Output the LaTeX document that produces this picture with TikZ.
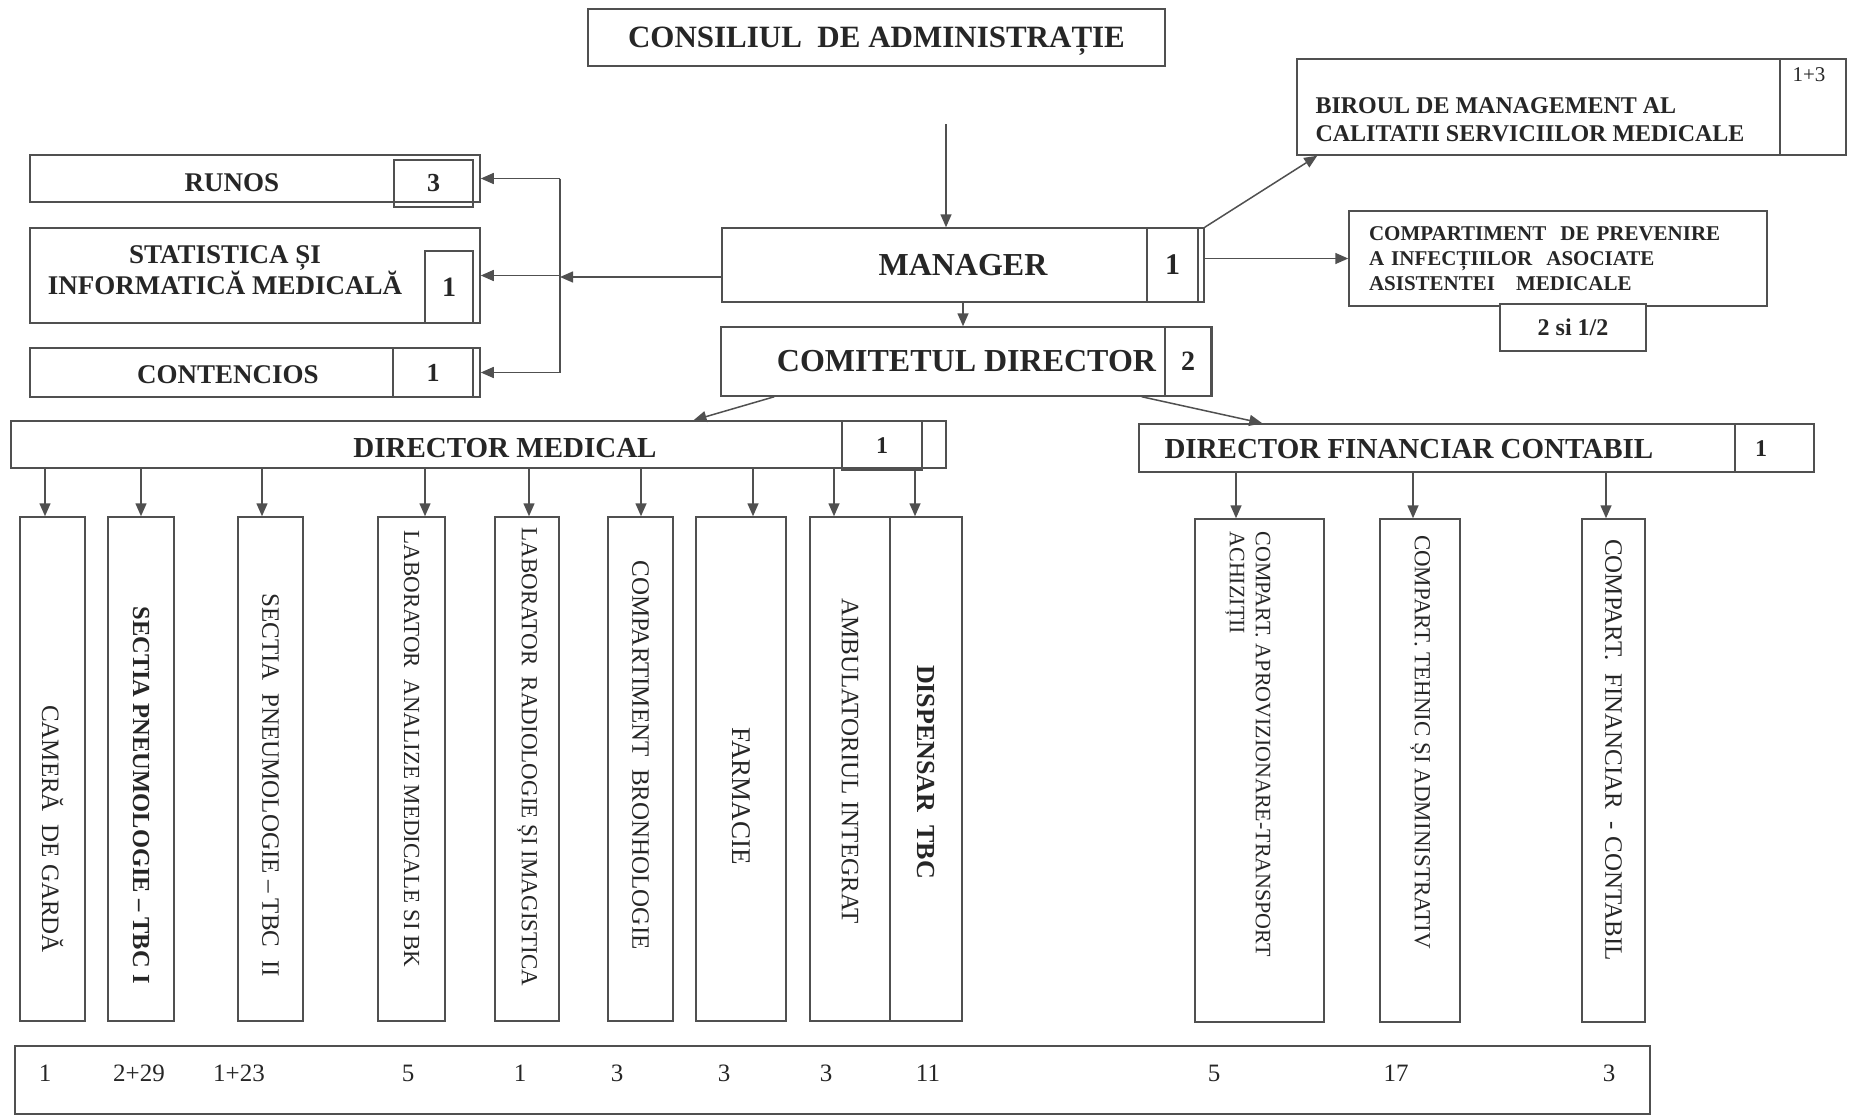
\documentclass[tikz,border=0pt]{standalone}
\usepackage{fontspec}
\setmainfont{Liberation Serif}
\usetikzlibrary{arrows.meta}

\definecolor{ink}{HTML}{262626}
\definecolor{rulec}{HTML}{505050}

\tikzset{
  box/.style={draw=rulec, line width=1.5pt, inner sep=0pt},
  arr/.style={draw=rulec, line width=1.5pt, -{Triangle[length=13pt,width=11pt]}},
  hbold/.style={text=ink, font=\bfseries\fontsize{#1}{#1}\selectfont},
  hplain/.style={text=ink, font=\fontsize{#1}{#1}\selectfont},
  vtext/.style={text=ink, rotate=-90, font=\fontsize{#1}{#1}\selectfont},
}

\begin{document}
\begin{tikzpicture}[x=1pt,y=-1pt]
\useasboundingbox (0,0) rectangle (1854,1117);

% consiliu, manager, comitet
\node (cons) at (876.5,37.5) [box,minimum width=577pt,minimum height=57pt,text depth=0pt,hbold=31] {CONSILIUL\ \ DE ADMINISTRAȚIE};
\coordinate (consout) at (946,124);
\node (manager) at (963,265) [box,minimum width=482pt,minimum height=74pt,hbold=32] {MANAGER};
\node (managerN) at (1172.5,265) [box,minimum width=51pt,minimum height=74pt,hbold=30] {1};
\node (comitet) at (966.5,361.5) [box,minimum width=491pt,minimum height=69pt,hbold=32] {COMITETUL DIRECTOR};
\node (comitetN) at (1188,361.5) [box,minimum width=46pt,minimum height=69pt,hbold=28] {2};

% birou calitate, compartiment infectii
\node (biroul) at (1571.5,107) [box,minimum width=549pt,minimum height=96pt] {};
\draw[rulec,line width=1.5pt] (biroul.north -| 1780,0) -- (biroul.south -| 1780,0);
\node (biroulN) at (1809,75) [hplain=21] {1+3};
\node (biroult) at (1312,120) [anchor=west,align=left,text=ink,font=\bfseries\fontsize{24}{28}\selectfont] {BIROUL DE MANAGEMENT AL\\CALITATII SERVICIILOR MEDICALE};
\node (prev) at (1558,258.5) [box,minimum width=418pt,minimum height=95pt,text width=378pt,align=left,text=ink,font=\bfseries\fontsize{21}{25}\selectfont] {COMPARTIMENT\ \ DE PREVENIRE\\A INFECȚIILOR\ \ ASOCIATE\\ASISTENTEI\ \ \ MEDICALE};
\node (prevN) at (1573,327.5) [box,fill=white,minimum width=146pt,minimum height=47pt,hbold=24] {2 si 1/2};

\draw[arr] (consout) -- (consout |- manager.north);
\draw[arr] (manager.south) -- (manager.south |- comitet.north);
\draw[arr] (manager.north east) -- ([xshift=21pt]biroul.south west);
\draw[arr] (prev.west -| manager.east) -- (prev.west);

% stanga
\node (runos) at (255,178.5) [box,minimum width=450pt,minimum height=47pt] {};
\node (runosN) at (433.5,183.5) [box,minimum width=79pt,minimum height=47pt,hbold=26] {3};
\node (runost) at (232,183) [hbold=27] {RUNOS};
\node (stat) at (255,275.5) [box,minimum width=450pt,minimum height=95pt] {};
\node (statN) at (449,287) [box,minimum width=48pt,minimum height=72pt,hbold=28] {1};
\node (statt) at (225,270) [align=center,text=ink,font=\bfseries\fontsize{27}{30}\selectfont] {STATISTICA ȘI\\INFORMATICĂ MEDICALĂ};
\node (cont) at (255,372.5) [box,minimum width=450pt,minimum height=49pt] {};
\node (contN) at (433,372.5) [box,minimum width=80pt,minimum height=49pt,hbold=26] {1};
\node (contt) at (228,375) [hbold=27] {CONTENCIOS};

\coordinate (bus) at (560,277);
\draw[rulec,line width=1.5pt] (runos.east -| bus) -- (cont.east -| bus);
\foreach \b in {runos,stat,cont}
  \draw[arr] (\b.east -| bus) -- (\b.east);
\draw[arr] (bus -| manager.west) -- (bus);

% directori
\node (dirmed) at (478.5,444.5) [box,minimum width=935pt,minimum height=47pt] {};
\node (dirmedN) at (882,445.5) [box,minimum width=80pt,minimum height=49pt,hbold=24] {1};
\node (dirmedt) at (505,448) [hbold=29] {DIRECTOR MEDICAL};
\node (dirfin) at (1476.5,448) [box,minimum width=675pt,minimum height=48pt] {};
\draw[rulec,line width=1.5pt] (dirfin.north -| 1735,0) -- (dirfin.south -| 1735,0);
\node (dirfint) at (1161,449) [anchor=west,hbold=29] {DIRECTOR FINANCIAR CONTABIL};
\node (dirfinN) at (1761,449) [hbold=24] {1};

\draw[arr] ([xshift=54pt]comitet.south west) -- ([xshift=215pt]dirmed.north);
\draw[arr] ([xshift=-71pt]comitet.south east) -- ([xshift=124pt]dirfin.north west);

% sectii si compartimente
\foreach \n/\x/\w in {camera/52.5/65, sectiaI/141/66, sectiaII/270.5/65, labanal/411.5/67, labrad/527/64,
                      bronh/640.5/65, farm/741/90, ambul/850/80, disp/926/72}
  \node (\n) at (\x,769) [box,minimum width=\w pt,minimum height=504pt] {};
\foreach \n/\x/\w in {aprov/1259.5/129, tehnic/1420/80, finan/1613.5/63}
  \node (\n) at (\x,770.5) [box,minimum width=\w pt,minimum height=503pt] {};

\foreach \n/\x in {camera/45, sectiaI/141, sectiaII/262, labanal/425, labrad/529, bronh/641, farm/753, ambul/834, disp/915}
  \draw[arr] (dirmed.south -| \x,0) -- (\n.north -| \x,0);
\foreach \n/\x in {aprov/1236, tehnic/1413, finan/1606}
  \draw[arr] (dirfin.south -| \x,0) -- (\n.north -| \x,0);

\foreach \n/\y/\s/\t in {camera/829/25/CAMERĂ\ \ DE GARDĂ,
                         sectiaI/795/24.5/{\bfseries SECTIA PNEUMOLOGIE – TBC I},
                         sectiaII/785/25/SECTIA\ \ PNEUMOLOGIE – TBC\ \ II,
                         labanal/749/23/LABORATOR\ \ ANALIZE MEDICALE SI BK,
                         labrad/757/23/LABORATOR\ \ RADIOLOGIE ȘI IMAGISTICA,
                         bronh/755/25/COMPARTIMENT\ \ BRONHOLOGIE,
                         farm/796/27/FARMACIE,
                         ambul/761/25/AMBULATORIUL INTEGRAT,
                         disp/772/26/{\bfseries DISPENSAR\ \ TBC},
                         tehnic/742/23/COMPART. TEHNIC ȘI ADMINISTRATIV,
                         finan/750/25/COMPART.\ \ FINANCIAR\ \ - CONTABIL}
  \node (t\n) at (\n.center |- 0,\y) [vtext=\s] {\t};
\node (taprov) at (1274,528) [vtext=22,anchor=north west,align=left,font=\fontsize{22}{26}\selectfont] {COMPART. APROVIZIONARE-TRANSPORT\\ACHIZIȚII};

% numar personal
\node (staff) at (832.5,1080) [box,minimum width=1635pt,minimum height=68pt] {};
\foreach \x/\v [count=\i] in {45/1, 139/2+29, 239/1+23, 408/5, 520/1, 617/3, 724/3, 826/3, 928/11, 1214/5, 1396/17, 1609/3}
  \node (num\i) at (\x,1073) [hplain=25] {\v};
\end{tikzpicture}
\end{document}
